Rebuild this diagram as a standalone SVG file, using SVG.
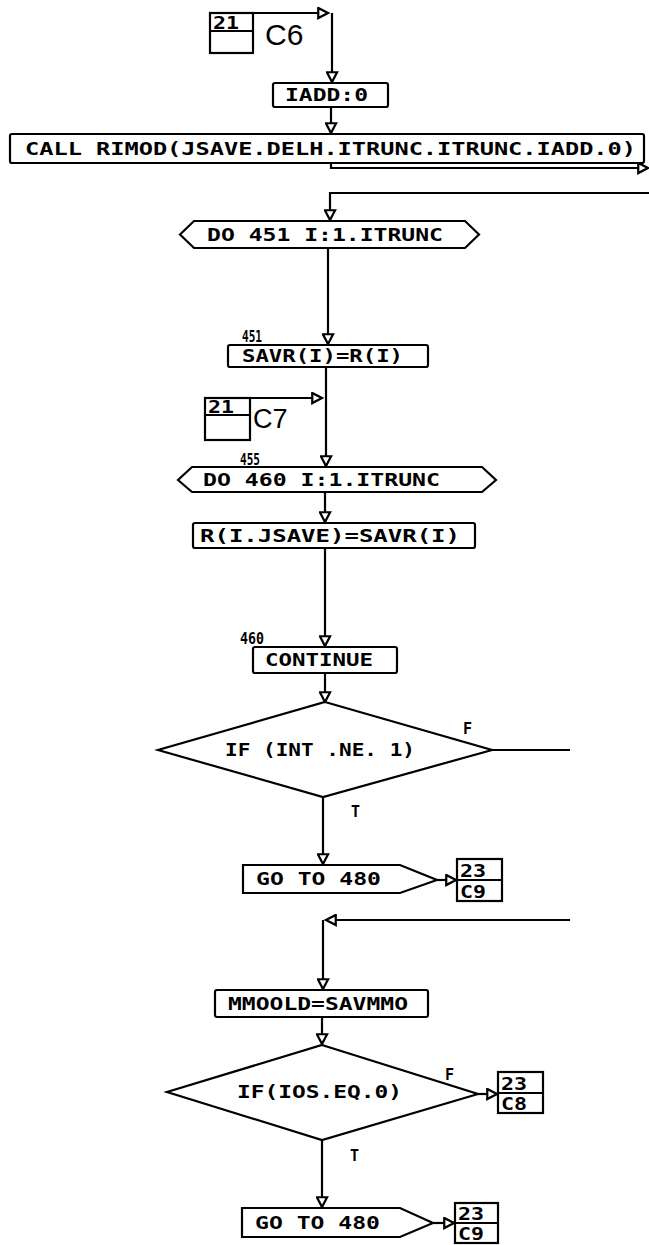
<svg xmlns="http://www.w3.org/2000/svg" width="649" height="1245" viewBox="0 0 649 1245">
<style>
.b{fill:#fff;stroke:#000;stroke-width:2.2}
.l{fill:none;stroke:#000;stroke-width:2.2}
.t{font-family:"DejaVu Sans Mono","Liberation Mono",monospace;font-weight:bold;font-size:17px;fill:#000}
.s{font-family:"DejaVu Sans Mono","Liberation Mono",monospace;font-weight:bold;font-size:15px;fill:#000}
.k{font-family:"DejaVu Sans Mono","Liberation Mono",monospace;font-weight:bold;font-size:17px;fill:#000}
.c{font-family:"Liberation Sans",Arial,sans-serif;fill:#000}
</style>
<defs>
<marker id="ah" viewBox="0 0 14 14" refX="12" refY="7" markerWidth="13" markerHeight="13" markerUnits="userSpaceOnUse" orient="auto">
<path d="M1.5,1.5 L12,7 L1.5,12.5 Z" fill="#fff" stroke="#000" stroke-width="2.4"/>
</marker>
</defs>
<rect width="649" height="1245" fill="#fff"/>
<g id="connectors">
<path class="l" d="M253,13 H328" marker-end="url(#ah)"/>
<path class="l" d="M332,13 V82" marker-end="url(#ah)"/>
<path class="l" d="M331,107 V133" marker-end="url(#ah)"/>
<path class="l" d="M331,163 V168 H648" marker-end="url(#ah)"/>
<path class="l" d="M649,193 H330 V220" marker-end="url(#ah)"/>
<path class="l" d="M328,248 V344" marker-end="url(#ah)"/>
<path class="l" d="M326,367 V466" marker-end="url(#ah)"/>
<path class="l" d="M250,398 H322" marker-end="url(#ah)"/>
<path class="l" d="M325,492 V522" marker-end="url(#ah)"/>
<path class="l" d="M325,548 V646" marker-end="url(#ah)"/>
<path class="l" d="M325,673 V702" marker-end="url(#ah)"/>
<path class="l" d="M492,750 H570"/>
<path class="l" d="M323,797 V864" marker-end="url(#ah)"/>
<path class="l" d="M437,880 H456" marker-end="url(#ah)"/>
<path class="l" d="M570,920 H326" marker-end="url(#ah)"/>
<path class="l" d="M323,920 V989" marker-end="url(#ah)"/>
<path class="l" d="M322,1017 V1044" marker-end="url(#ah)"/>
<path class="l" d="M478,1094 H497" marker-end="url(#ah)"/>
<path class="l" d="M322,1140 V1207" marker-end="url(#ah)"/>
<path class="l" d="M433,1223 H454" marker-end="url(#ah)"/>
</g>
<g id="c6">
<rect class="b" x="210" y="13" width="43" height="40"/>
<line class="l" x1="210" y1="31" x2="253" y2="31"/>
<text class="k" x="213" y="29" textLength="26" lengthAdjust="spacingAndGlyphs">21</text>
<text class="c" x="265" y="45" style="font-size:30px">C6</text>
</g>
<g id="iadd">
<rect class="b" x="273" y="83" width="115" height="24" rx="2"/>
<text class="t" x="285" y="101" textLength="83" lengthAdjust="spacingAndGlyphs">IADD:0</text>
</g>
<g id="call">
<rect class="b" x="10" y="134" width="634" height="29" rx="2"/>
<text class="t" x="25" y="155" textLength="611" lengthAdjust="spacingAndGlyphs">CALL RIMOD(JSAVE.DELH.ITRUNC.ITRUNC.IADD.0)</text>
</g>
<g id="do451">
<polygon class="b" points="180,234.5 194,221 465,221 479,234.5 465,248 194,248"/>
<text class="t" x="207" y="241" textLength="236" lengthAdjust="spacingAndGlyphs">DO 451  I:1.ITRUNC</text>
</g>
<g id="savr">
<text class="s" x="242" y="342" textLength="20" lengthAdjust="spacingAndGlyphs">451</text>
<rect class="b" x="228" y="345" width="200" height="22" rx="2"/>
<text class="t" x="242" y="362" textLength="161" lengthAdjust="spacingAndGlyphs">SAVR(I)=R(I)</text>
</g>
<g id="c7">
<rect class="b" x="205" y="398" width="45" height="42"/>
<line class="l" x1="205" y1="415" x2="250" y2="415"/>
<text class="k" x="208" y="413" textLength="26" lengthAdjust="spacingAndGlyphs">21</text>
<text class="c" x="253" y="428" style="font-size:27px">C7</text>
</g>
<g id="do460">
<text class="s" x="240" y="465" textLength="20" lengthAdjust="spacingAndGlyphs">455</text>
<polygon class="b" points="178,480 192,467 482,467 496,480 482,492 192,492"/>
<text class="t" x="203" y="486" textLength="237" lengthAdjust="spacingAndGlyphs">DO 460  I:1.ITRUNC</text>
</g>
<g id="asave">
<rect class="b" x="193" y="523" width="282" height="25" rx="2"/>
<text class="t" x="200" y="542" textLength="260" lengthAdjust="spacingAndGlyphs">R(I.JSAVE)=SAVR(I)</text>
</g>
<g id="continue">
<text class="s" x="240" y="644" textLength="24" lengthAdjust="spacingAndGlyphs">460</text>
<rect class="b" x="253" y="647" width="144" height="26" rx="2"/>
<text class="t" x="265" y="666" textLength="108" lengthAdjust="spacingAndGlyphs">CONTINUE</text>
</g>
<g id="if1">
<polygon class="b" points="325,702 492,750 323,797 158,750"/>
<text class="t" x="225" y="756" textLength="190" lengthAdjust="spacingAndGlyphs">IF (INT .NE. 1)</text>
<text class="s" x="463" y="734">F</text>
<text class="s" x="351" y="817">T</text>
</g>
<g id="goto1">
<polygon class="b" points="243,865 400,865 437,880 400,893 243,893"/>
<text class="t" x="256" y="885" textLength="125" lengthAdjust="spacingAndGlyphs">GO TO 480</text>
</g>
<g id="c9a">
<rect class="b" x="457" y="859" width="45" height="42"/>
<line class="l" x1="457" y1="880" x2="502" y2="880"/>
<text class="k" x="460" y="877" textLength="26" lengthAdjust="spacingAndGlyphs">23</text>
<text class="k" x="460" y="898" textLength="26" lengthAdjust="spacingAndGlyphs">C9</text>
</g>
<g id="mmoold">
<rect class="b" x="215" y="990" width="213" height="27" rx="2"/>
<text class="t" x="228" y="1010" textLength="180" lengthAdjust="spacingAndGlyphs">MMOOLD=SAVMMO</text>
</g>
<g id="if2">
<polygon class="b" points="322,1045 478,1094 322,1140 167,1092"/>
<text class="t" x="237" y="1098" textLength="165" lengthAdjust="spacingAndGlyphs">IF(IOS.EQ.0)</text>
<text class="s" x="445" y="1080">F</text>
<text class="s" x="350" y="1161">T</text>
</g>
<g id="c8">
<rect class="b" x="498" y="1072" width="45" height="41"/>
<line class="l" x1="498" y1="1093" x2="543" y2="1093"/>
<text class="k" x="501" y="1090" textLength="26" lengthAdjust="spacingAndGlyphs">23</text>
<text class="k" x="501" y="1110" textLength="26" lengthAdjust="spacingAndGlyphs">C8</text>
</g>
<g id="goto2">
<polygon class="b" points="242,1208 400,1208 433,1223 400,1237 242,1237"/>
<text class="t" x="255" y="1229" textLength="125" lengthAdjust="spacingAndGlyphs">GO TO 480</text>
</g>
<g id="c9b">
<rect class="b" x="455" y="1203" width="43" height="40"/>
<line class="l" x1="455" y1="1223" x2="498" y2="1223"/>
<text class="k" x="458" y="1220" textLength="26" lengthAdjust="spacingAndGlyphs">23</text>
<text class="k" x="458" y="1240" textLength="26" lengthAdjust="spacingAndGlyphs">C9</text>
</g>
</svg>
